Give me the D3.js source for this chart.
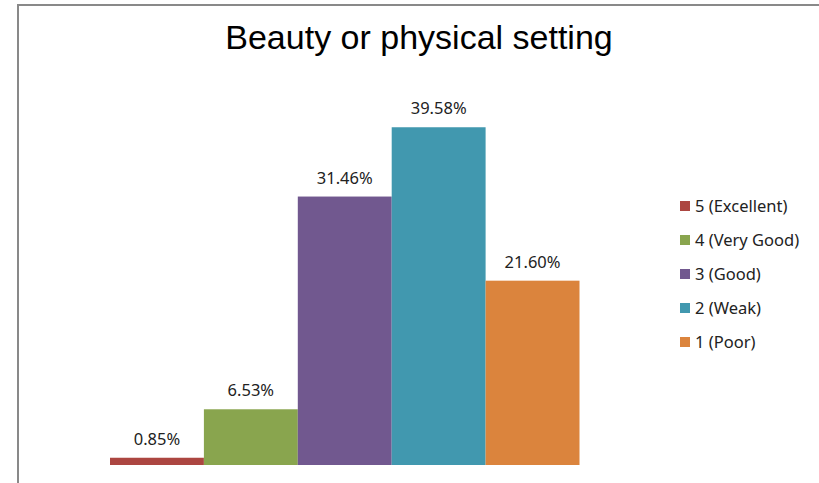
<!DOCTYPE html>
<html>
<head>
<meta charset="utf-8">
<script src="https://cdn.jsdelivr.net/npm/d3@7/dist/d3.min.js"></script>
<style>
  html, body { margin: 0; padding: 0; background: #fff; }
  svg { display: block; }
</style>
</head>
<body>
<script>
const title = "Beauty or physical setting";
const categories = ["5 (Excellent)", "4 (Very Good)", "3 (Good)", "2 (Weak)", "1 (Poor)"];
const values = [0.85, 6.53, 31.46, 39.58, 21.60];
const colors = ["#AC4641", "#89A54E", "#71588F", "#4198AF", "#DB843D"];
const yDomain = [0, 45];

const W = 819, H = 483;
const svg = d3.select("body").append("svg").attr("width", W).attr("height", H);

// frame
svg.append("path")
  .attr("d", `M18,${H} L18,5 L${W},5`)
  .attr("fill", "none").attr("stroke", "#898989").attr("stroke-width", 2);

// title
svg.append("text")
  .attr("x", 419).attr("y", 49)
  .attr("text-anchor", "middle")
  .attr("font-family", "Liberation Sans, Arial, sans-serif")
  .attr("font-size", 34)
  .attr("fill", "#000")
  .text(title);

const x = d3.scaleBand().domain(categories).range([110, 579.5]).padding(0);
const y = d3.scaleLinear().domain(yDomain).range([465, 81]);

const data = categories.map((c, i) => ({ c, v: values[i], color: colors[i] }));

svg.append("g").selectAll("rect").data(data).join("rect")
  .attr("x", d => x(d.c))
  .attr("y", d => y(d.v))
  .attr("width", x.bandwidth())
  .attr("height", d => y(0) - y(d.v))
  .attr("fill", d => d.color);

const fmt = d3.format(".2f");
svg.append("g").selectAll("text").data(data).join("text")
  .attr("x", d => x(d.c) + x.bandwidth() / 2)
  .attr("y", d => y(d.v) - 13)
  .attr("text-anchor", "middle")
  .attr("font-family", "Noto Sans, sans-serif")
  .attr("font-size", 16.5)
  .attr("fill", "#222")
  .text(d => fmt(d.v) + "%");

// legend
const lg = svg.append("g").selectAll("g").data(data).join("g")
  .attr("transform", (d, i) => `translate(680,${206 + i * 34})`);
lg.append("rect").attr("x", 0).attr("y", -5).attr("width", 10).attr("height", 10)
  .attr("fill", d => d.color);
lg.append("text").attr("x", 15).attr("y", 0).attr("dy", "0.35em")
  .attr("font-family", "Noto Sans, sans-serif")
  .attr("font-size", 16.5)
  .attr("fill", "#222")
  .text(d => d.c);
</script>
</body>
</html>
